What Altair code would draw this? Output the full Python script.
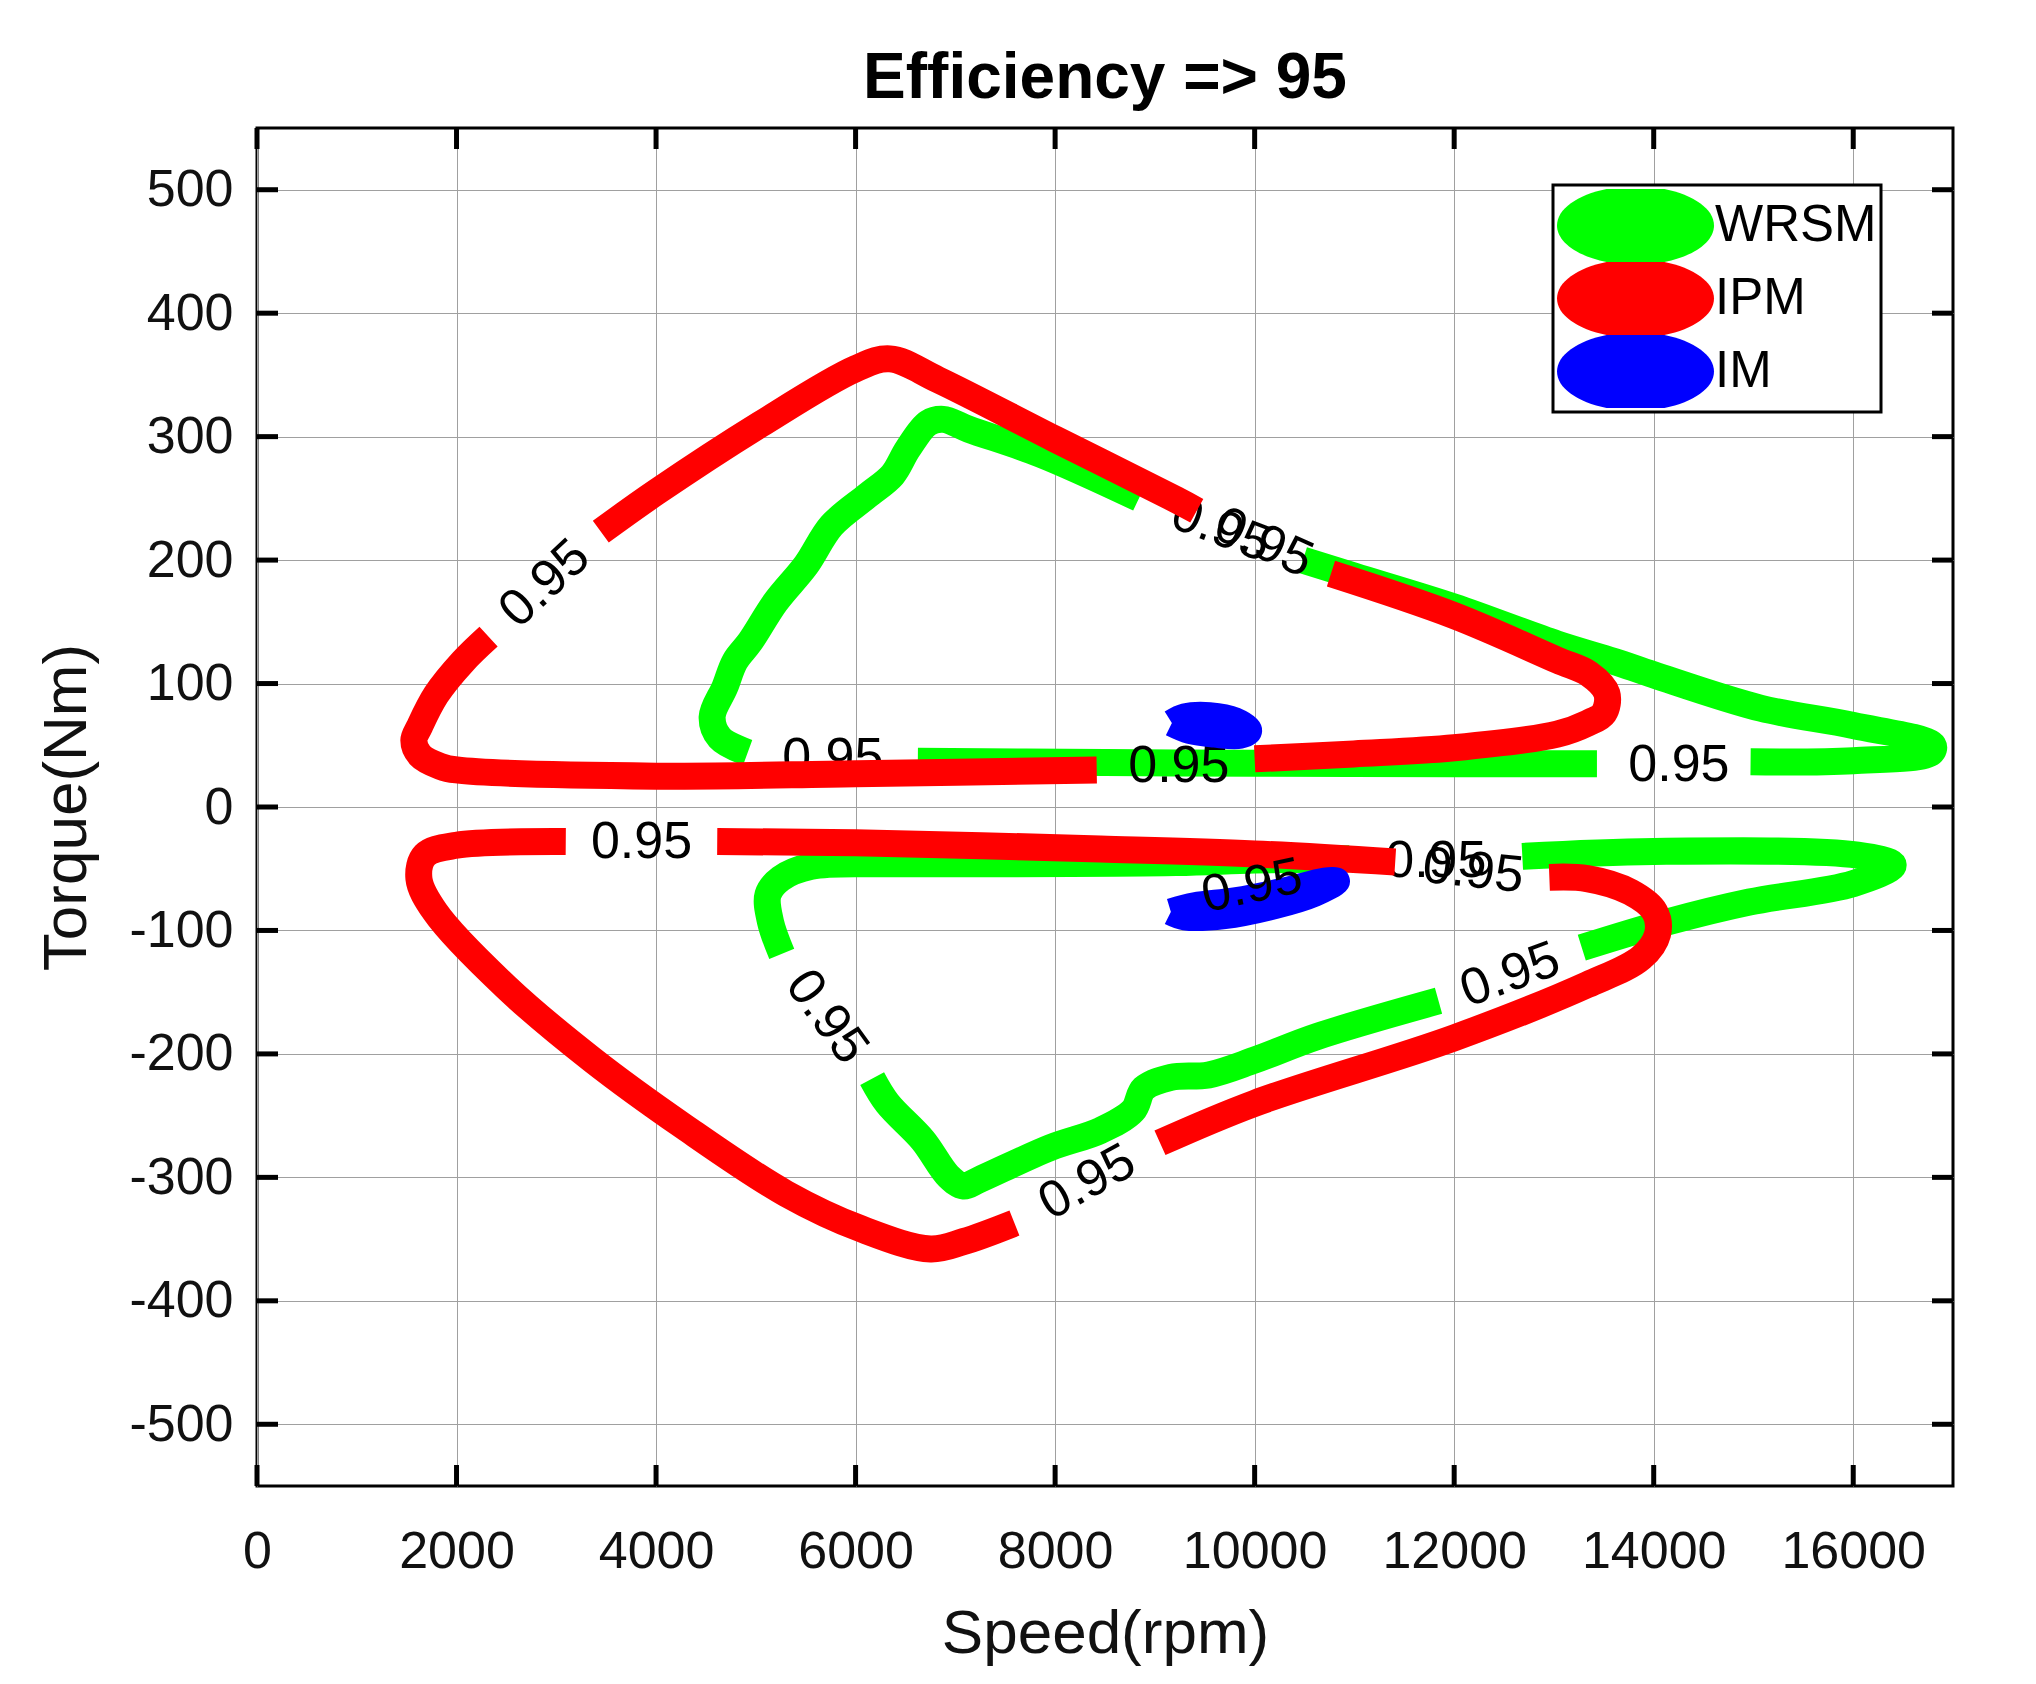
import altair as alt
import pandas as pd

TITLE = "Efficiency => 95"
X_TITLE = "Speed(rpm)"
Y_TITLE = "Torque(Nm)"
X_TICKS = [0, 2000, 4000, 6000, 8000, 10000, 12000, 14000, 16000]
Y_TICKS = [-500, -400, -300, -200, -100, 0, 100, 200, 300, 400, 500]
MOTORS = ["WRSM", "IPM", "IM"]
COLORS = ["#00ff00", "#ff0000", "#0000ff"]
LEVEL_TEXT = "0.95"

# ---- WRSM (green) contour pieces ----
WRSM_UP_A_X = [6624, 8500, 10000, 12000, 13431]
WRSM_UP_A_Y = [37, 36, 35.5, 35, 35]
WRSM_UP_B_X = [14971, 16000, 16780, 16800, 16000, 15073, 14002, 13600, 13033, 12000, 11000, 10484]
WRSM_UP_B_Y = [36.6, 37.5, 44, 50, 66, 80, 107, 118, 132, 162, 187, 200]
WRSM_UP_C_X = [8840, 7847, 7134, 6879, 6726, 6523, 6370, 6115, 5759, 5504, 5198, 4944, 4791, 4689, 4562, 4638, 4918]
WRSM_UP_C_Y = [250, 286, 306, 314, 311, 290, 269, 252, 228, 196, 166, 134, 118, 97, 73, 56, 44]
WRSM_LO_A_X = [5260, 5147, 5122, 5249, 5555, 6319, 7083, 9212, 10000, 10950]
WRSM_LO_A_Y = [-119, -93, -71, -58, -48, -46, -46, -45, -43, -42]
WRSM_LO_B_X = [12683, 14000, 16043, 16400, 16000, 14959, 14146, 13279]
WRSM_LO_B_Y = [-40, -36, -39, -47, -62, -77, -93, -114]
WRSM_LO_C_X = [11843, 10623, 10000, 9539, 9160, 8889, 8780, 8455, 7949, 7236, 7083, 6930, 6675, 6319, 6166]
WRSM_LO_C_Y = [-157, -186, -205, -217, -219, -228, -246, -262, -276, -302, -307, -299, -270, -240, -220]

# ---- IPM (red) contour pieces ----
IPM_UP_A_X = [3446, 4002, 5046, 6000, 6344, 6828, 8000, 9212, 9420]
IPM_UP_A_Y = [223, 255, 310, 355, 363, 346, 298, 249, 240]
IPM_UP_B_X = [10765, 12000, 13033, 13350, 13530, 13500, 13339, 13033, 12000, 10994, 10000]
IPM_UP_B_Y = [189, 155, 119, 108, 92, 76, 68, 59, 48, 43, 39]
IPM_UP_C_X = [8417, 6000, 4000, 2000, 1837, 1633, 1572, 1628, 1796, 2066, 2321]
IPM_UP_C_Y = [30, 27, 25, 30, 33, 42, 54, 65, 91, 118, 138]
IPM_LO_A_X = [4613, 6000, 8455, 10000, 11409]
IPM_LO_A_Y = [-28, -29, -34, -38, -44.5]
IPM_LO_B_X = [12954, 13333, 13767, 14011, 14038, 13875, 13333, 12000, 10000, 9051]
IPM_LO_B_Y = [-57, -58, -69, -85, -103, -122, -144, -187, -240, -272]
IPM_LO_C_X = [7592, 7083, 6752, 6064, 5300, 4282, 3365, 2499, 1786, 1623, 1684, 2000, 3095]
IPM_LO_C_Y = [-337, -352, -358, -342, -313, -259, -205, -146, -85, -58, -39, -31, -28]

# ---- IM (blue) contour pieces ----
IM_UP_X = [9170, 9300, 9550, 9800, 9940, 9850, 9600, 9350, 9170]
IM_UP_Y = [68, 73, 74, 70, 62, 58, 59, 62, 68]
IM_LO_X = [9160, 9400, 9800, 10300, 10700, 10820, 10600, 10200, 9700, 9300, 9160]
IM_LO_Y = [-85, -80, -76, -68, -60, -60, -70, -80, -88, -89, -85]

# ---- contour labels ----
LABEL_MOTOR = ["WRSM", "WRSM", "WRSM", "WRSM", "WRSM", "WRSM",
               "IPM", "IPM", "IPM", "IPM", "IPM", "IPM", "IM"]
LABEL_X = [5771, 14253, 9662, 11816, 12561, 5713,
           2883, 10090, 9240, 3854, 12190, 8321, 9973]
LABEL_Y = [40, 34, 225, -44, -136, -170,
           181, 214, 33, -28, -52, -304, -64]
LABEL_ANGLE = [0, 0, 21, 0, 340, 54,
               317, 24, 0, 0, 6, 331, 348]

SEGMENTS = [
    ("WRSM", "w_up_a", WRSM_UP_A_X, WRSM_UP_A_Y),
    ("WRSM", "w_up_b", WRSM_UP_B_X, WRSM_UP_B_Y),
    ("WRSM", "w_up_c", WRSM_UP_C_X, WRSM_UP_C_Y),
    ("WRSM", "w_lo_a", WRSM_LO_A_X, WRSM_LO_A_Y),
    ("WRSM", "w_lo_b", WRSM_LO_B_X, WRSM_LO_B_Y),
    ("WRSM", "w_lo_c", WRSM_LO_C_X, WRSM_LO_C_Y),
    ("IPM", "i_up_a", IPM_UP_A_X, IPM_UP_A_Y),
    ("IPM", "i_up_b", IPM_UP_B_X, IPM_UP_B_Y),
    ("IPM", "i_up_c", IPM_UP_C_X, IPM_UP_C_Y),
    ("IPM", "i_lo_a", IPM_LO_A_X, IPM_LO_A_Y),
    ("IPM", "i_lo_b", IPM_LO_B_X, IPM_LO_B_Y),
    ("IPM", "i_lo_c", IPM_LO_C_X, IPM_LO_C_Y),
    ("IM", "m_up", IM_UP_X, IM_UP_Y),
    ("IM", "m_lo", IM_LO_X, IM_LO_Y),
]

rows = []
for motor, seg, xs, ys in SEGMENTS:
    for i, (xv, yv) in enumerate(zip(xs, ys)):
        rows.append({"motor": motor, "seg": seg, "order": i, "x": xv, "y": yv})
lines_df = pd.DataFrame(rows)

labels_df = pd.DataFrame({
    "motor": LABEL_MOTOR, "x": LABEL_X, "y": LABEL_Y,
    "angle": LABEL_ANGLE, "text": [LEVEL_TEXT] * len(LABEL_X),
})
xticks_df = pd.DataFrame({"x": X_TICKS})
yticks_df = pd.DataFrame({"y": Y_TICKS})

W, H = 1696, 1358
FONT = "Liberation Sans"
ELLIPSE = "M -1 0 A 1 0.5 0 1 1 1 0 A 1 0.5 0 1 1 -1 0 Z"

xscale = alt.Scale(domain=[0, 17000], nice=False, zero=False)
yscale = alt.Scale(domain=[-550, 550], nice=False, zero=False)

xaxis = alt.Axis(values=X_TICKS, title=X_TITLE, labelFontSize=52, labelFont=FONT,
                 labelColor="#111111", titleFontSize=62, titleFont=FONT,
                 titleFontWeight="normal", titleColor="#111111", ticks=False,
                 domain=False, grid=True, gridColor="#a0a0a0", gridWidth=1,
                 labelPadding=40, titlePadding=26, labelFlush=False,
                 labelExpr="datum.value + ''")
yaxis = alt.Axis(values=Y_TICKS, title=Y_TITLE, labelFontSize=52, labelFont=FONT,
                 labelColor="#111111", titleFontSize=62, titleFont=FONT,
                 titleFontWeight="normal", titleColor="#111111", ticks=False,
                 domain=False, grid=True, gridColor="#a0a0a0", gridWidth=1,
                 labelPadding=24, titlePadding=30, labelFlush=False,
                 labelExpr="datum.value + ''")

base = alt.Chart(lines_df)

def line_layer(motor, color):
    return base.transform_filter(alt.datum.motor == motor).mark_line(
        strokeWidth=27, strokeCap="butt", strokeJoin="round", clip=True,
        interpolate="catmull-rom"
    ).encode(
        x=alt.X("x:Q", scale=xscale, axis=xaxis),
        y=alt.Y("y:Q", scale=yscale, axis=yaxis),
        detail="seg:N",
        order="order:Q",
        color=alt.value(color),
    )

def label_layer(motor):
    return alt.Chart(labels_df).transform_filter(alt.datum.motor == motor).mark_text(
        fontSize=52, font=FONT, color="black", align="center", baseline="middle"
    ).encode(
        x=alt.X("x:Q", scale=xscale),
        y=alt.Y("y:Q", scale=yscale),
        text="text:N",
        angle=alt.Angle("angle:Q", scale=None),
    )

legend_layer = base.transform_filter("false").mark_point(
    filled=True, shape=ELLIPSE, opacity=1
).encode(
    x=alt.X("x:Q", scale=xscale),
    y=alt.Y("y:Q", scale=yscale),
    color=alt.Color("motor:N", scale=alt.Scale(domain=MOTORS, range=COLORS),
                    legend=alt.Legend(title=None, orient="none", legendX=1296, legendY=57,
                                      symbolType=ELLIPSE, symbolSize=24649,
                                      symbolStrokeWidth=0, symbolOpacity=1,
                                      labelFontSize=51, labelFont=FONT, labelColor="black",
                                      labelOffset=1, padding=4, rowPadding=0,
                                      clipHeight=73,
                                      strokeColor="black", fillColor="white",
                                      labelLimit=400)),
)

tick_style = dict(color="black", strokeWidth=5)
xt_bottom = alt.Chart(xticks_df).mark_rule(**tick_style).encode(
    x=alt.X("x:Q", scale=xscale), y=alt.value(H), y2=alt.value(H - 21))
xt_top = alt.Chart(xticks_df).mark_rule(**tick_style).encode(
    x=alt.X("x:Q", scale=xscale), y=alt.value(0), y2=alt.value(21))
yt_left = alt.Chart(yticks_df).mark_rule(**tick_style).encode(
    y=alt.Y("y:Q", scale=yscale), x=alt.value(0), x2=alt.value(21))
yt_right = alt.Chart(yticks_df).mark_rule(**tick_style).encode(
    y=alt.Y("y:Q", scale=yscale), x=alt.value(W), x2=alt.value(W - 21))

chart = alt.layer(
    line_layer("WRSM", COLORS[0]), label_layer("WRSM"),
    line_layer("IPM", COLORS[1]), label_layer("IPM"),
    line_layer("IM", COLORS[2]), label_layer("IM"),
    xt_bottom, xt_top, yt_left, yt_right,
    legend_layer,
).properties(
    width=W, height=H,
    background="white",
    title=alt.TitleParams(TITLE, fontSize=64, fontWeight="bold", font=FONT,
                          anchor="middle", offset=15, color="black"),
    autosize=alt.AutoSizeParams(type="none"),
    padding={"left": 249, "top": 120, "right": 75, "bottom": 190},
).configure_view(
    stroke="black", strokeWidth=3
).configure_legend(
    strokeWidth=3
)

chart.save("out.html", embed_options={"renderer": "svg", "actions": False})
